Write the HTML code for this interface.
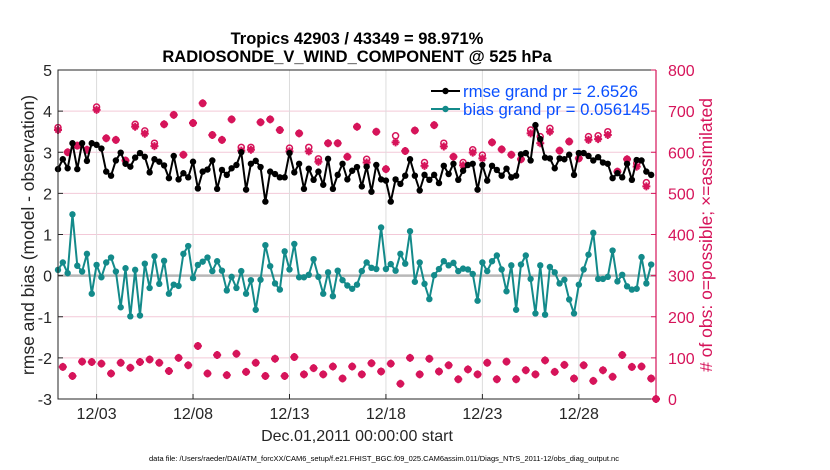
<!DOCTYPE html>
<html><head><meta charset="utf-8"><style>
html,body{margin:0;padding:0;background:#fff;}
svg{display:block;font-family:"Liberation Sans",sans-serif;}
</style></head><body>
<svg id="chart" width="830" height="470" viewBox="0 0 830 470" xmlns="http://www.w3.org/2000/svg">
<g id="grid"></g>
<g id="marks"></g>
<g id="axes"></g>
<text x="357" y="44" text-anchor="middle" font-size="16.5" font-weight="bold" fill="#000">Tropics 42903 / 43349 = 98.971%</text>
<text x="357" y="62" text-anchor="middle" font-size="16.5" font-weight="bold" fill="#000">RADIOSONDE_V_WIND_COMPONENT @ 525 hPa</text>
<text transform="translate(34,235) rotate(-90)" text-anchor="middle" font-size="17.5" fill="#262626">rmse and bias (model - observation)</text>
<text transform="translate(712,235) rotate(-90)" text-anchor="middle" font-size="17.5" fill="#d6145a"># of obs: o=possible; ×=assimilated</text>
<text x="357" y="441" text-anchor="middle" font-size="16" fill="#262626">Dec.01,2011 00:00:00 start</text>
<text x="384" y="461" text-anchor="middle" font-size="7.5" fill="#000">data file: /Users/raeder/DAI/ATM_forcXX/CAM6_setup/f.e21.FHIST_BGC.f09_025.CAM6assim.011/Diags_NTrS_2011-12/obs_diag_output.nc</text>
<g>
  <line x1="431" y1="91" x2="460" y2="91" stroke="#000" stroke-width="2"/>
  <circle cx="445.5" cy="91" r="3.2" fill="#000"/>
  <text x="463" y="97" font-size="16.8" fill="#0a50ff">rmse grand pr = 2.6526</text>
  <line x1="431" y1="109" x2="460" y2="109" stroke="#138a8a" stroke-width="2"/>
  <circle cx="445.5" cy="109" r="3.2" fill="#138a8a"/>
  <text x="463" y="115" font-size="16.8" fill="#0a50ff">bias grand pr = 0.056145</text>
</g>
</svg>
<script>
const xTickDays = [2, 7, 12, 17, 22, 27];
const xTickLabels = ["12/03", "12/08", "12/13", "12/18", "12/23", "12/28"];
const leftTicks = [-3, -2, -1, 0, 1, 2, 3, 4, 5];
const rightTicks = [0, 100, 200, 300, 400, 500, 600, 700, 800];
const rmse = [2.59,2.83,2.61,3.22,2.59,3.22,2.79,3.22,3.18,3.09,2.53,2.43,2.80,2.99,2.72,2.65,2.87,2.98,2.89,2.51,2.83,2.77,2.68,2.37,2.91,2.34,2.49,2.39,2.77,2.12,2.53,2.58,
2.80,2.11,2.57,2.45,2.61,2.69,3.00,2.09,2.72,2.79,2.64,1.80,2.53,2.47,2.39,2.39,2.98,2.51,2.72,2.11,2.60,2.33,2.53,2.21,2.84,2.11,2.45,2.72,2.34,2.55,
2.64,2.17,2.65,2.04,2.69,2.34,2.31,1.80,2.34,2.23,2.43,2.83,2.43,2.07,2.45,2.33,2.45,2.25,2.67,2.47,2.72,2.33,2.55,2.69,2.72,2.09,2.69,2.31,2.67,2.57,
2.43,2.60,2.39,2.43,2.95,2.98,2.80,3.66,3.32,2.87,2.85,2.61,2.85,2.83,2.94,2.45,2.98,2.98,2.91,2.80,2.88,2.75,2.72,2.37,2.49,2.39,2.72,2.33,2.81,2.80,2.53,2.45];
const bias = [0.14,0.32,0.06,1.49,0.24,0.10,0.53,-0.44,0.26,-0.04,0.32,0.44,0.10,-0.77,0.18,-0.99,0.14,-0.97,0.29,-0.30,0.47,-0.20,0.36,-0.44,-0.22,-0.25,0.53,0.72,-0.06,0.26,0.34,0.44,
0.11,0.35,0.12,-0.36,-0.03,-0.30,0.11,-0.44,-0.11,-0.83,-0.10,0.74,0.23,-0.19,-0.34,0.59,0.15,0.77,-0.04,-0.04,0.02,0.40,-0.03,-0.44,0.08,-0.50,0.12,-0.11,-0.24,-0.32,
-0.22,0.11,0.32,0.19,0.16,1.17,0.16,0.28,0.12,0.53,0.29,1.08,-0.15,0.32,-0.20,-0.57,0.01,0.16,0.35,0.25,0.31,0.11,0.17,0.15,0.04,-0.61,0.32,0.11,0.35,0.49,
0.15,-0.38,0.25,-0.83,0.27,0.49,-0.08,-0.92,0.25,-0.95,0.21,0.08,-0.19,-0.10,-0.58,-0.92,-0.22,0.15,0.51,1.04,-0.08,-0.08,-0.03,0.61,-0.14,0.02,-0.26,-0.34,-0.32,0.45,-0.19,0.27];
const obsAssim = [654,78,600,56,616,91,606,90,703,86,634,62,630,88,580,76,662,90,645,96,615,88,668,68,691,100,594,82,671,129,719,62,
642,107,630,58,680,110,604,66,606,88,673,56,680,98,654,56,602,102,646,60,602,75,577,60,622,79,622,50,589,79,
662,60,575,87,650,67,559,86,624,37,603,100,653,60,567,98,666,67,614,82,589,48,568,72,599,60,585,88,624,48,
607,91,594,48,583,70,646,60,622,94,650,66,604,83,626,50,585,82,630,44,632,70,642,54,553,107,583,78,565,79,517,50,0];
const obsPoss = [660,78,600,56,616,91,606,90,710,86,634,62,630,88,580,76,668,90,652,96,622,88,668,68,691,100,594,82,671,129,719,62,
642,107,630,58,680,110,612,66,612,88,673,56,680,98,654,56,610,102,646,60,612,75,584,60,622,79,622,50,589,79,
662,60,583,87,650,67,559,86,640,37,603,100,653,60,575,98,666,67,622,82,589,48,575,72,606,60,593,88,624,48,
607,91,594,48,583,70,654,60,638,94,658,66,604,83,626,50,585,82,638,44,640,70,650,54,553,107,583,78,573,79,526,50,0];

const X0=58, X1=656, Y0=70, Y1=399;
const stepsPerDay = 4, nDays = 31;
function xScale(i){ return X0 + (X1-X0)*i/(nDays*stepsPerDay); }
function xDay(d){ return X0 + (X1-X0)*d/nDays; }
function yL(v){ return Y1 - (Y1-Y0)*(v+3)/8; }
function yR(v){ return Y1 - (Y1-Y0)*v/800; }
const NS="http://www.w3.org/2000/svg";
function mk(tag, attrs, parent){ const e=document.createElementNS(NS,tag); for(const k in attrs) e.setAttribute(k, attrs[k]); parent.appendChild(e); return e; }
const grid=document.getElementById('grid'), marks=document.getElementById('marks'), axes=document.getElementById('axes');
const pink="#d6145a", teal="#138a8a";

leftTicks.forEach(function(t){
  if(t===-3||t===5) return;
  const g=mk('line',{x1:X0,x2:X1,y1:yL(t),y2:yL(t),stroke:'#f3c9d8','stroke-width':1},grid);
  
  
});
xTickDays.forEach(function(d){
  const g=mk('line',{x1:xDay(d),x2:xDay(d),y1:Y0,y2:Y1,stroke:'#dcdcdc','stroke-width':1},grid);
  
  
});
const zl=mk('line',{x1:X0,x2:X1,y1:yL(0),y2:yL(0),stroke:'#b8b8b8','stroke-width':2.5},grid);



obsPoss.forEach(function(v,i){
  const c=mk('circle',{cx:xScale(i),cy:yR(v),r:3,fill:'none',stroke:pink,'stroke-width':1.5},marks);
  
  
});
obsAssim.forEach(function(v,i){
  const x=xScale(i), y=yR(v), s=4;
  const p=mk('path',{d:'M'+(x-s)+' '+y+'H'+(x+s)+'M'+x+' '+(y-s)+'V'+(y+s)+'M'+(x-2.6)+' '+(y-2.6)+'L'+(x+2.6)+' '+(y+2.6)+'M'+(x-2.6)+' '+(y+2.6)+'L'+(x+2.6)+' '+(y-2.6),stroke:pink,'stroke-width':2,fill:'none'},marks);
  
  
});

function series(vals,color,name){
  const pts=vals.map(function(v,i){return xScale(i).toFixed(2)+','+yL(v).toFixed(2);}).join(' ');
  const pl=mk('polyline',{points:pts,fill:'none',stroke:color,'stroke-width':2,'stroke-linejoin':'round'},marks);
  
  
  vals.forEach(function(v,i){
    const c=mk('circle',{cx:xScale(i),cy:yL(v),r:3.2,fill:color},marks);
    
    
  });
}
series(rmse,'#000','rmse');
series(bias,teal,'bias');

const frame=mk('path',{d:'M'+X1+' '+Y0+'H'+X0+'V'+Y1+'H'+X1,fill:'none',stroke:'#262626','stroke-width':1},axes);


const ra=mk('line',{x1:X1,x2:X1,y1:Y0,y2:Y1,stroke:pink,'stroke-width':1.2},axes);


leftTicks.forEach(function(t){
  const y=yL(t);
  const tk=mk('line',{x1:X0,x2:X0+5,y1:y,y2:y,stroke:'#262626'},axes);
  
  
  const tx=mk('text',{x:X0-6,y:y+6,'text-anchor':'end','font-size':16,fill:'#262626'},axes);
  tx.textContent=String(t);
  
  
});
rightTicks.forEach(function(t){
  const y=yR(t);
  const tk=mk('line',{x1:X1-5,x2:X1,y1:y,y2:y,stroke:pink},axes);
  
  
  const tx=mk('text',{x:X1+12,y:y+6,'text-anchor':'start','font-size':16,fill:pink},axes);
  tx.textContent=String(t);
  
  
});
xTickDays.forEach(function(d,k){
  const x=xDay(d);
  const tk=mk('line',{x1:x,x2:x,y1:Y1,y2:Y1-5,stroke:'#262626'},axes);
  
  
  const tx=mk('text',{x:x,y:Y1+20,'text-anchor':'middle','font-size':16,fill:'#262626'},axes);
  tx.textContent=xTickLabels[k];
  
  
});
</script>
</body></html>
